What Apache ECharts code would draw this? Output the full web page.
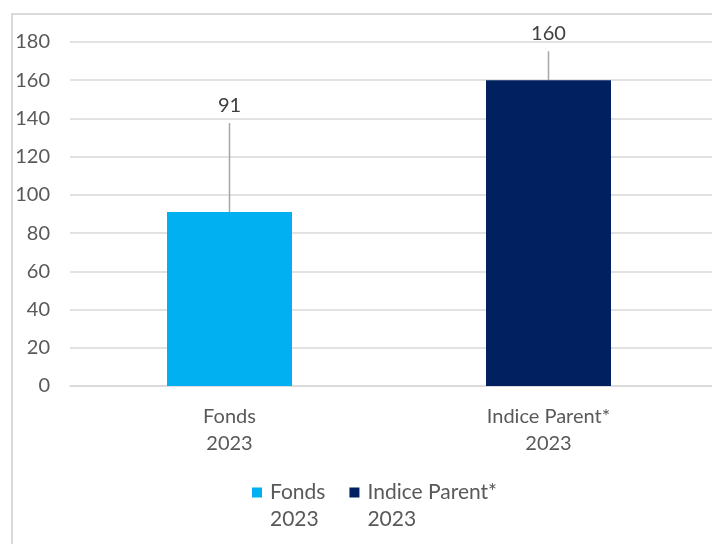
<!DOCTYPE html>
<html>
<head>
<meta charset="utf-8">
<script src="https://cdn.jsdelivr.net/npm/echarts@6/dist/echarts.min.js"></script>
<style>html,body{margin:0;padding:0;background:#fff}#c{width:712px;height:544px}</style>
</head>
<body>
<div id="c"></div>
<script>
const categories = ['Fonds\n2023', 'Indice Parent*\n2023'];
const seriesNames = ['Fonds\n2023', 'Indice Parent*\n2023'];
const fondsValues = [91, '-'];
const indiceValues = ['-', 160];
const yTicks = [0, 20, 40, 60, 80, 100, 120, 140, 160, 180];

const FONT = "Lato, 'Open Sans', sans-serif";
const chart = echarts.init(document.getElementById('c'));
const labelBase = {
  show: true, position: 'top', distance: 5, padding: [0, 0, 8, 0],
  backgroundColor: 'rgba(255,255,255,0)',
  color: '#404040', fontSize: 20, fontFamily: FONT
};
const lineBase = { show: true, lineStyle: { color: '#a6a6a6', width: 1.5 } };
chart.setOption({
  animation: false,
  backgroundColor: '#fff',
  graphic: [{
    type: 'rect', shape: { x: 12, y: 14, width: 800, height: 600 },
    style: { fill: 'none', stroke: '#d9d9d9', lineWidth: 2 }, z: -1
  }],
  grid: [
    { left: 70, right: 4, top: 42, bottom: 158 },
    { left: 70, right: 0, top: 42, bottom: 158 }
  ],
  xAxis: [
    {
      type: 'category', gridIndex: 0, data: categories,
      axisLine: { show: false }, axisTick: { show: false },
      axisLabel: { color: '#595959', fontSize: 20, fontFamily: FONT, lineHeight: 27, margin: 17 }
    },
    {
      type: 'category', gridIndex: 1, data: categories,
      axisLine: { show: true, lineStyle: { color: '#d9d9d9', width: 1.5 } },
      axisTick: { show: false }, axisLabel: { show: false }
    }
  ],
  yAxis: [
    {
      type: 'value', gridIndex: 0, min: yTicks[0], max: yTicks[yTicks.length - 1], interval: 20,
      axisLabel: { show: false }, splitLine: { show: false }, axisLine: { show: false }, axisTick: { show: false }
    },
    {
      type: 'value', gridIndex: 1, min: yTicks[0], max: yTicks[yTicks.length - 1], interval: 20,
      axisLine: { show: false }, axisTick: { show: false },
      axisLabel: { color: '#595959', fontSize: 20, fontFamily: FONT, margin: 20 },
      splitLine: { lineStyle: { color: '#d9d9d9', width: 1.5 } }
    }
  ],
  legend: {
    bottom: 6, left: 247, itemGap: 24,
    itemWidth: 10, itemHeight: 37,
    icon: 'path://M0,0h10v10h-10z M0,36.9h10v0.1h-10z',
    textStyle: { color: '#595959', fontSize: 21, fontFamily: FONT, lineHeight: 27, padding: [0, 0, 0, 3] },
    data: seriesNames
  },
  series: [
    {
      name: seriesNames[0], type: 'bar', stack: 's', xAxisIndex: 0, yAxisIndex: 0,
      data: fondsValues, barWidth: 125,
      itemStyle: { color: '#00B0F0' },
      label: labelBase,
      labelLine: lineBase,
      labelLayout: { dy: -84 }
    },
    {
      name: seriesNames[1], type: 'bar', stack: 's', xAxisIndex: 0, yAxisIndex: 0,
      data: indiceValues, barWidth: 125,
      itemStyle: { color: '#002060' },
      label: labelBase,
      labelLine: lineBase,
      labelLayout: { dy: -24 }
    }
  ]
});
</script>
</body>
</html>
